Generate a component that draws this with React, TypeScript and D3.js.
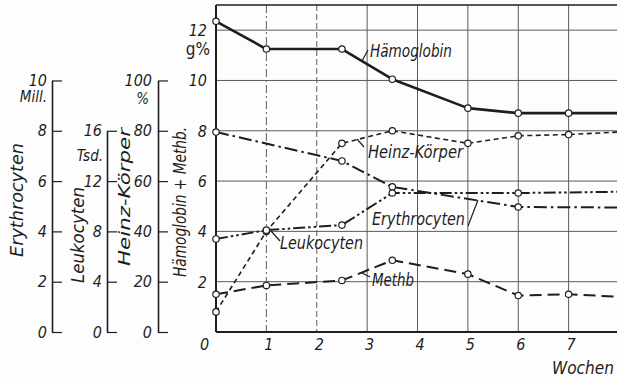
import React, { useEffect, useRef } from 'react';
import * as d3 from 'd3';

// weeks after start of treatment
const weeks = [0, 1, 2.5, 3.5, 5, 6, 7, 8];
const weekTicks = [0, 1, 2, 3, 4, 5, 6, 7, 8];

// g% (left main axis)
const haemoglobin = [12.35, 11.25, 11.25, 10.05, 8.9, 8.7, 8.7, 8.7];
const methb = [1.5, 1.85, 2.05, 2.85, 2.3, 1.45, 1.5, 1.4];

// Heinz-Körper in %
const heinz = [8, 40, 75, 80, 75, 78, 78.5, 79.5];

// Erythrocyten in Mill.
const erythroWeeks = [0, 2.5, 3.5, 6, 8];
const erythro = [7.95, 6.8, 5.77, 4.97, 4.95];

// Leukocyten in Tsd.
const leukoWeeks = [0, 1, 2.5, 3.5, 6, 8];
const leuko = [7.4, 8.1, 8.5, 11.05, 11.05, 11.15];

const mainTicks = [2, 4, 6, 8, 10, 12];
const erythroTicks = [0, 2, 4, 6, 8, 10];
const leukoTicks = [0, 4, 8, 12, 16];
const percentTicks = [0, 20, 40, 60, 80, 100];

const W = 617;
const H = 378;
const FONT = "'Liberation Sans Narrow', 'DejaVu Sans Condensed', 'Liberation Sans', sans-serif";
const INK = '#1e1e1e';

const x = d3.scaleLinear().domain([0, 8]).range([216, 619]);
const y = d3.scaleLinear().domain([0, 13]).range([332, 5]);
const yEry = d3.scaleLinear().domain([0, 10]).range([y(0), y(10)]);
const yLeu = d3.scaleLinear().domain([0, 16]).range([y(0), y(8)]);
const yPct = d3.scaleLinear().domain([0, 100]).range([y(0), y(10)]);

type Pt = [number, number];

const App = () => {
  const ery = useRef<SVGGElement>(null);
  const leu = useRef<SVGGElement>(null);
  const pct = useRef<SVGGElement>(null);
  const bottom = useRef<SVGGElement>(null);

  useEffect(() => {
    const side = (ref, scale, ticks, pad) => {
      const g = d3.select(ref.current);
      g.selectAll('*').remove();
      g.call(d3.axisLeft(scale).tickValues(ticks).tickSizeInner(-10).tickSizeOuter(0).tickPadding(pad));
      g.select('.domain').attr('stroke', INK).attr('stroke-width', 1.6);
      g.selectAll('.tick line').attr('stroke', INK).attr('stroke-width', 1.2);
      g.selectAll('text').attr('font-family', FONT).attr('font-size', 16)
        .attr('font-style', 'italic').attr('fill', INK);
    };
    side(ery, yEry, erythroTicks, 5);
    side(leu, yLeu, leukoTicks, 5);
    side(pct, yPct, percentTicks, 6);

    const b = d3.select(bottom.current);
    b.selectAll('*').remove();
    b.call(d3.axisBottom(x).tickValues(weekTicks).tickSize(0).tickPadding(7).tickFormat(d3.format('d')));
    b.select('.domain').remove();
    b.selectAll('text').attr('font-family', FONT).attr('font-size', 16)
      .attr('font-style', 'italic').attr('fill', INK)
      .attr('dx', (d) => (d === 0 ? -12 : 2));
  }, []);

  const line = d3.line<Pt>().x((d) => x(d[0])).y((d) => d[1]);

  const hbPts: Pt[] = weeks.map((w, i) => [w, y(haemoglobin[i])]);
  const mePts: Pt[] = weeks.map((w, i) => [w, y(methb[i])]);
  const hzPts: Pt[] = weeks.map((w, i) => [w, yPct(heinz[i])]);
  const erPts: Pt[] = erythroWeeks.map((w, i) => [w, yEry(erythro[i])]);
  const lePts: Pt[] = leukoWeeks.map((w, i) => [w, yLeu(leuko[i])]);

  const series = [
    { pts: hbPts, dash: null, width: 2.6 },
    { pts: hzPts, dash: '5,3.5', width: 1.6 },
    { pts: erPts, dash: '13,4,2.5,4', width: 2 },
    { pts: lePts, dash: '12,3,2.5,3,2.5,3', width: 2 },
    { pts: mePts, dash: '12,6', width: 2 },
  ];

  const txt = { fontFamily: FONT, fontStyle: 'italic' as const, fill: INK };
  const fit = { lengthAdjust: 'spacingAndGlyphs' };

  return (
    <svg width={W} height={H} style={{ position: 'absolute', left: 0, top: 0, background: '#fdfdfd' }}>
      {/* grid */}
      <g stroke="#5a5a5a" strokeWidth={1}>
        {mainTicks.map((t) => (
          <line key={'h' + t} x1={x(0)} x2={x(8)} y1={y(t)} y2={y(t)} />
        ))}
        {weekTicks.slice(1).map((t) => (
          <line key={'v' + t} x1={x(t)} x2={x(t)} y1={y(13)} y2={y(0)}
            strokeDasharray={t === 1 ? '8,3,2,3' : t === 2 ? '6,3' : null} />
        ))}
      </g>
      {/* frame */}
      <line x1={x(0)} x2={x(8)} y1={y(13)} y2={y(13)} stroke={INK} strokeWidth={1.4} />
      <line x1={x(0)} x2={x(8)} y1={y(0)} y2={y(0)} stroke={INK} strokeWidth={2} />
      <line x1={x(0)} x2={x(0)} y1={y(13)} y2={y(0)} stroke={INK} strokeWidth={2} />

      {/* main axis labels */}
      {mainTicks.map((t) => (
        <text key={'m' + t} x={207} y={y(t) + 6} textAnchor="end" fontSize={16} {...txt}>{t}</text>
      ))}
      <text x={210} y={y(12) + 25} textAnchor="end" fontSize={17} {...txt} fontStyle="normal">g%</text>

      {/* side axes */}
      <g ref={ery} transform="translate(52,0)" />
      <g ref={leu} transform="translate(107,0)" />
      <g ref={pct} transform="translate(158,0)" />
      <g ref={bottom} transform={`translate(0,${y(0)})`} />

      <text x={47} y={yEry(10) + 22} textAnchor="end" fontSize={15} {...txt}>Mill.</text>
      <text x={103} y={yLeu(16) + 30} textAnchor="end" fontSize={15} {...txt}>Tsd.</text>
      <text x={149} y={yPct(100) + 24} textAnchor="end" fontSize={15} {...txt}>%</text>

      {/* rotated titles */}
      <text transform="translate(23,200) rotate(-90)" textAnchor="middle" fontSize={18} textLength={114} {...fit} {...txt}>Erythrocyten</text>
      <text transform="translate(84,235) rotate(-90)" textAnchor="middle" fontSize={18} textLength={96} {...fit} {...txt}>Leukocyten</text>
      <text transform="translate(130,197) rotate(-90)" textAnchor="middle" fontSize={16} textLength={138} {...fit} {...txt}>Heinz-Körper</text>
      <text transform="translate(186,202) rotate(-90)" textAnchor="middle" fontSize={17} textLength={150} {...fit} {...txt}>Hämoglobin + Methb.</text>

      {/* series */}
      {series.map((s, i) => (
        <path key={'s' + i} d={line(s.pts) || ''} fill="none" stroke={INK}
          strokeWidth={s.width} strokeDasharray={s.dash} strokeLinejoin="round" />
      ))}
      {series.map((s, i) =>
        s.pts.filter((p) => p[0] < 8).map((p, j) => (
          <circle key={`c${i}-${j}`} cx={x(p[0])} cy={p[1]} r={3.2} fill="#fff" stroke={INK} strokeWidth={1.2} />
        ))
      )}

      {/* leaders */}
      <g stroke={INK} strokeWidth={1.2} fill="none">
        <line x1={362} y1={61} x2={368} y2={50} />
        <line x1={357} y1={139} x2={364} y2={147} />
        <line x1={468} y1={226} x2={478} y2={200} />
        <line x1={271} y1={231} x2={280} y2={241} />
        <polyline points="369,269 362,273 370,277" />
      </g>

      {/* series labels */}
      <text x={370} y={57} fontSize={17} textLength={82} {...fit} {...txt}>Hämoglobin</text>
      <text x={368} y={158} fontSize={17} textLength={95} {...fit} {...txt}>Heinz-Körper</text>
      <text x={372} y={225} fontSize={17} textLength={93} {...fit} {...txt}>Erythrocyten</text>
      <text x={280} y={249} fontSize={17} textLength={83} {...fit} {...txt}>Leukocyten</text>
      <text x={372} y={286} fontSize={17} textLength={42} {...fit} {...txt}>Methb</text>
      <text x={552} y={374} fontSize={17} textLength={62} {...fit} {...txt}>Wochen</text>
    </svg>
  );
};

export default App;
